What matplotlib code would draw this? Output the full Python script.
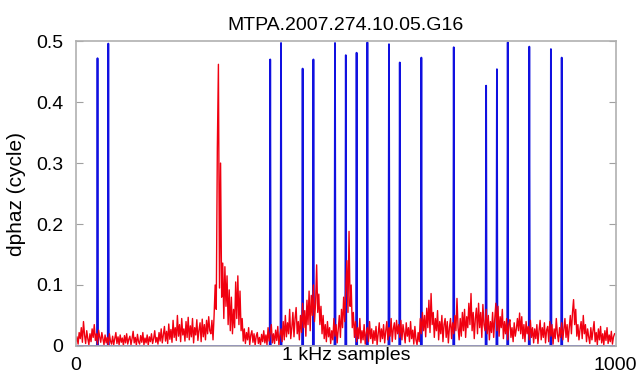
import numpy as np
import matplotlib
matplotlib.use("Agg")
import matplotlib.pyplot as plt

plt.rcParams['font.family'] = ['Liberation Sans', 'DejaVu Sans']

title = "MTPA.2007.274.10.05.G16"
n_samples = 1000

# blue marker spikes: sample index and height (cycle)
spike_idx = [40, 60, 360, 380, 420, 440, 480, 500, 520, 540,
             580, 600, 640, 700, 760, 780, 800, 840, 880, 900]
spike_val = [0.472, 0.496, 0.470, 0.497, 0.455, 0.470, 0.497, 0.477, 0.481, 0.498,
             0.495, 0.465, 0.473, 0.490, 0.427, 0.454, 0.498, 0.491, 0.487, 0.473]

# red phase difference, every 2nd sample, in milli-cycles
red_step = 2
red_mcyc = [
    8, 15, 3, 22, 12, 30, 6, 40, 18, 4, 25, 12, 2, 20, 7, 28, 14, 35, 9, 20, 3, 26, 15, 6, 22,
    12, 2, 18, 5, 14, 1, 20, 8, 3, 16, 2, 12, 22, 4, 15, 2, 18, 6, 13, 1, 17, 5, 20, 3, 11,
    16, 2, 12, 24, 5, 14, 1, 19, 7, 3, 17, 6, 22, 2, 13, 5, 18, 1, 15, 7, 20, 4, 12, 25, 6,
    14, 3, 22, 8, 28, 5, 18, 32, 8, 24, 4, 36, 11, 27, 6, 42, 14, 30, 9, 50, 16, 35, 7, 45, 18,
    28, 8, 40, 14, 47, 10, 33, 15, 45, 5, 30, 18, 43, 9, 26, 38, 7, 44, 15, 35, 10, 42, 20, 48, 25,
    20, 42, 10, 50, 100, 60, 324, 462, 95, 300, 80, 136, 45, 130, 65, 115, 35, 92, 25, 80, 20, 60, 30, 105, 45,
    115, 35, 90, 25, 45, 8, 28, 4, 22, 10, 30, 2, 18, 25, 6, 20, 1, 16, 22, 4, 14, 1, 19, 7, 25,
    5, 18, 2, 30, 8, 22, 35, 5, 20, 4, 26, 9, 32, 2, 18, 28, 7, 40, 10, 50, 15, 38, 20, 60, 12,
    30, 55, 15, 45, 63, 20, 40, 10, 50, 22, 70, 30, 58, 16, 75, 35, 90, 25, 83, 50, 100, 40, 70, 133, 55,
    85, 35, 65, 20, 50, 12, 35, 7, 40, 15, 30, 4, 25, 10, 45, 16, 35, 5, 28, 50, 14, 60, 30, 80, 40,
    95, 140, 55, 188, 65, 100, 30, 55, 14, 40, 7, 30, 12, 45, 5, 25, 10, 35, 3, 22, 30, 7, 40, 12, 28,
    4, 25, 9, 32, 2, 20, 38, 7, 28, 12, 35, 5, 24, 40, 10, 30, 16, 45, 7, 28, 38, 11, 42, 20, 35,
    14, 42, 10, 35, 22, 5, 38, 16, 30, 7, 40, 12, 26, 3, 32, 10, 2, 22, 7, 45, 20, 55, 25, 50, 15,
    62, 30, 75, 22, 86, 35, 55, 14, 45, 25, 58, 10, 40, 20, 50, 7, 35, 45, 14, 40, 5, 30, 45, 12, 38,
    20, 50, 25, 78, 30, 10, 45, 16, 55, 25, 60, 14, 48, 30, 70, 35, 86, 25, 55, 12, 45, 62, 20, 70, 30,
    55, 14, 68, 35, 25, 60, 20, 50, 10, 40, 22, 55, 14, 45, 70, 25, 65, 16, 48, 30, 60, 12, 40, 20, 45,
    10, 35, 43, 14, 30, 7, 38, 16, 28, 45, 25, 54, 20, 48, 12, 35, 7, 40, 20, 32, 10, 42, 14, 30, 5,
    28, 12, 35, 4, 25, 42, 10, 30, 14, 38, 5, 26, 32, 7, 40, 16, 35, 3, 28, 12, 45, 20, 7, 30, 14,
    38, 10, 28, 45, 14, 35, 7, 30, 50, 20, 55, 76, 35, 60, 16, 35, 10, 28, 40, 12, 50, 20, 35, 7, 28,
    15, 4, 30, 10, 25, 40, 7, 22, 2, 28, 10, 32, 5, 20, 2, 25, 9, 30, 4, 18, 7, 24, 3, 15, 20,
]

x_blue = np.arange(n_samples)
blue = np.zeros(n_samples)
blue[spike_idx] = spike_val

x_red = np.arange(len(red_mcyc)) * red_step
red = np.array(red_mcyc) / 1000.0

fig = plt.figure(figsize=(6.38, 3.74), dpi=100)
ax = fig.add_axes([0.119, 0.075, 0.846, 0.815])

ax.plot(x_blue, blue, color='#1010e0', lw=1.3)
ax.plot(x_red, red, color='#f00010', lw=1.0)

ax.set_xlim(0, n_samples)
ax.set_ylim(0, 0.5)
ax.set_xticks([0, n_samples])
ax.set_xticklabels(['0', '1000'])
ax.set_yticks([0, 0.1, 0.2, 0.3, 0.4, 0.5])
ax.set_yticklabels(['0', '0.1', '0.2', '0.3', '0.4', '0.5'])

for s in ax.spines.values():
    s.set_color('#b0b0b0')
    s.set_linewidth(1.2)

ax.tick_params(axis='y', direction='in', length=5, color='#a0a0a0',
               labelsize=14, pad=9, right=True)
ax.tick_params(axis='x', length=0, labelsize=14, pad=8)

ax.set_title(title, fontsize=14, pad=8)
ax.set_ylabel("dphaz (cycle)", fontsize=15, labelpad=7)
ax.set_xlabel("1 kHz samples", fontsize=14)
ax.xaxis.set_label_coords(0.5, -0.005)

fig.savefig("out.png", dpi=100)
